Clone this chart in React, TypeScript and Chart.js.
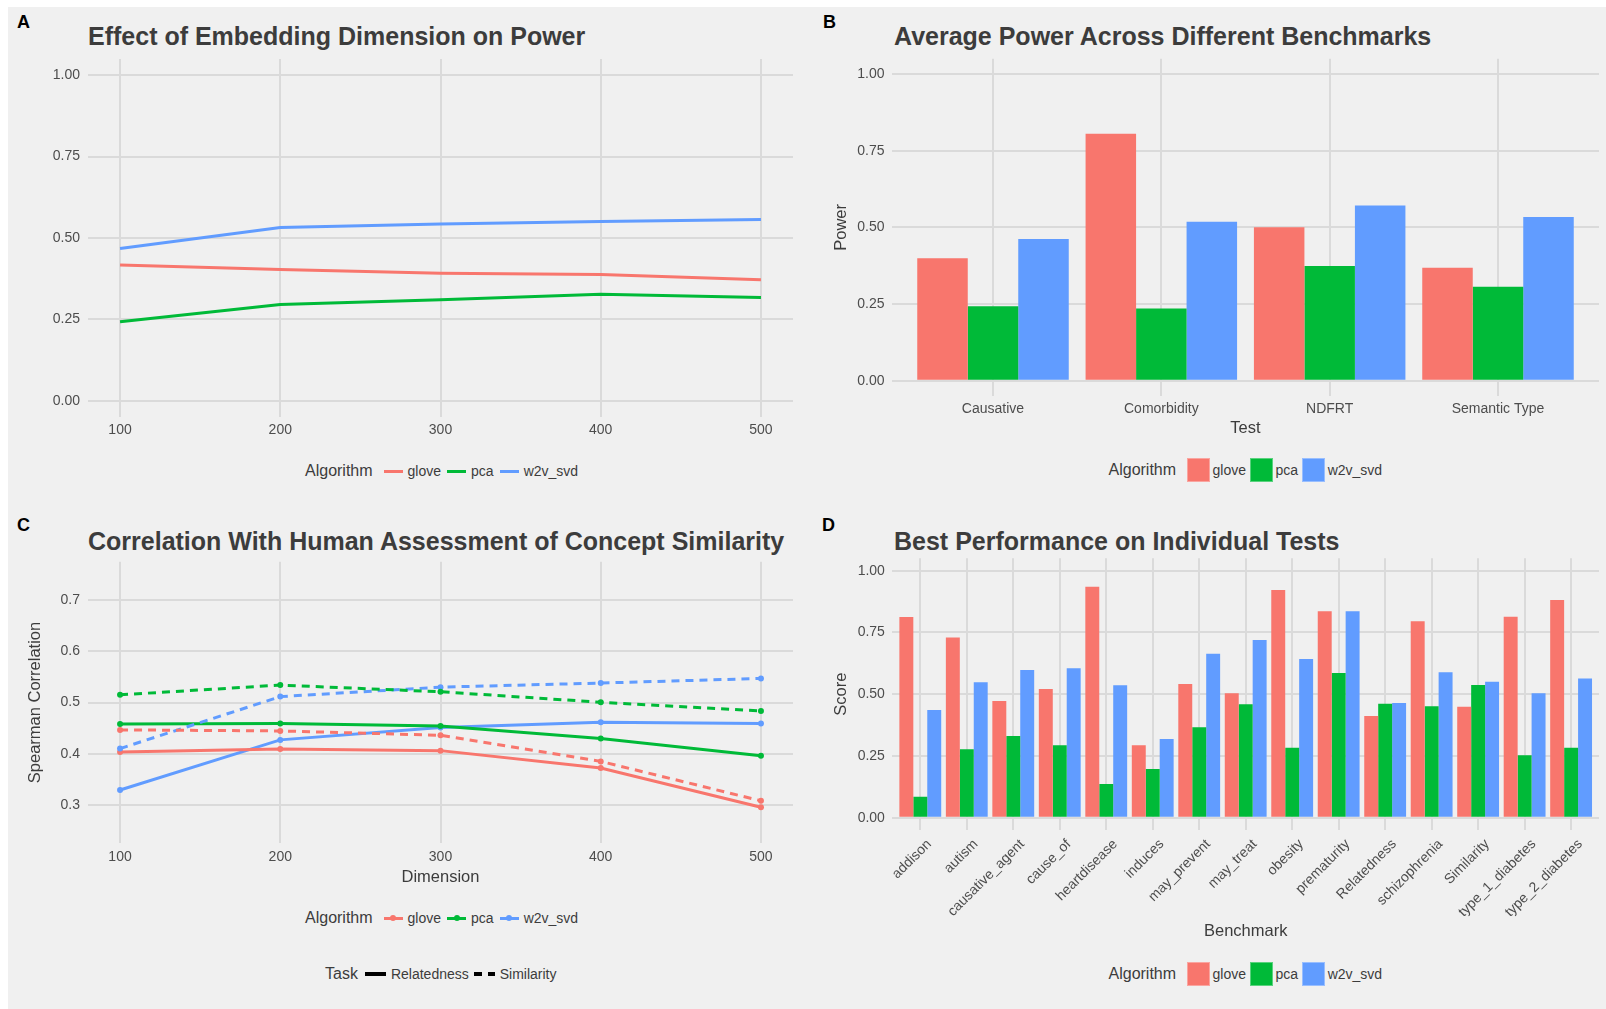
import React, { useEffect, useRef } from "react";
import { Chart, registerables } from "chart.js";

Chart.register(...registerables);

// ---------------- data ----------------
const algorithms = ["glove", "pca", "w2v_svd"];
const algoColors = ["#F8766D", "#00BA38", "#619CFF"];

// Panel A: Effect of Embedding Dimension on Power
const dimensions = [100, 200, 300, 400, 500];
const powerGlove = [0.417, 0.403, 0.392, 0.388, 0.372];
const powerPca = [0.243, 0.296, 0.31, 0.327, 0.317];
const powerW2v = [0.468, 0.532, 0.543, 0.551, 0.557];
const powerTicks = [0, 0.25, 0.5, 0.75, 1];

// Panel B: Average Power Across Different Benchmarks
const tests = ["Causative", "Comorbidity", "NDFRT", "Semantic Type"];
const avgGlove = [0.399, 0.805, 0.5, 0.368];
const avgPca = [0.243, 0.235, 0.374, 0.306];
const avgW2v = [0.462, 0.518, 0.571, 0.534];

// Panel C: Correlation With Human Assessment of Concept Similarity
const corrTicks = [0.3, 0.4, 0.5, 0.6, 0.7];
const tasks = ["Relatedness", "Similarity"];
const relGlove = [0.4035, 0.409, 0.406, 0.372, 0.2955];
const relPca = [0.458, 0.459, 0.454, 0.4295, 0.396];
const relW2v = [0.329, 0.427, 0.451, 0.4615, 0.459];
const simGlove = [0.4465, 0.4445, 0.436, 0.385, 0.308];
const simPca = [0.515, 0.534, 0.521, 0.5005, 0.4835];
const simW2v = [0.41, 0.5115, 0.53, 0.538, 0.547];

// Panel D: Best Performance on Individual Tests
const benchmarks = [
  "addison", "autism", "causative_agent", "cause_of", "heartdisease",
  "induces", "may_prevent", "may_treat", "obesity", "prematurity",
  "Relatedness", "schizophrenia", "Similarity", "type_1_diabetes", "type_2_diabetes",
];
const bestGlove = [0.8125, 0.729, 0.4725, 0.521, 0.935, 0.293, 0.541, 0.5035, 0.922, 0.8355, 0.412, 0.795, 0.4495, 0.814, 0.881];
const bestPca = [0.085, 0.277, 0.331, 0.293, 0.1365, 0.197, 0.366, 0.459, 0.2835, 0.586, 0.4615, 0.451, 0.537, 0.2525, 0.2835];
const bestW2v = [0.436, 0.548, 0.598, 0.605, 0.536, 0.3185, 0.664, 0.7195, 0.6425, 0.8355, 0.4645, 0.5885, 0.5505, 0.5035, 0.563];

// ---------------- styling ----------------
const FONT = "'Liberation Sans', Arial, Helvetica, sans-serif";
const TICK_COLOR = "#4D4D4D";
const TEXT_COLOR = "#3C3C3C";
const GRID_COLOR = "#DADADA";
const BG = "#F0F0F0";

Chart.defaults.font.family = FONT;

const fixTicks = (values: number[]) => (axis: any) => {
  axis.ticks = values.map((v) => ({ value: v }));
};

const fitX = (h: number) => (s: any) => {
  s.height = h;
  s.paddingLeft = 0;
  s.paddingRight = 0;
};
const fitY = (w: number) => (s: any) => {
  s.width = w;
  s.paddingTop = 0;
  s.paddingBottom = 0;
};

function baseScale(extra: any) {
  return {
    offset: false,
    border: { display: false },
    grid: { color: GRID_COLOR, lineWidth: 2, drawTicks: false, offset: false },
    ticks: { color: TICK_COLOR, font: { size: 14 } },
    ...extra,
  };
}

function useChart(factory: () => any) {
  const ref = useRef<HTMLCanvasElement | null>(null);
  useEffect(() => {
    if (!ref.current) return;
    const chart = new Chart(ref.current, factory());
    return () => chart.destroy();
  }, []);
  return ref;
}

const commonOptions = {
  animation: false,
  responsive: false,
  maintainAspectRatio: false,
  events: [],
  plugins: { legend: { display: false }, tooltip: { enabled: false }, title: { display: false } },
};

function Panel({ left, top, width, height, factory }: any) {
  const ref = useChart(factory);
  return (
    <canvas
      ref={ref}
      width={width}
      height={height}
      style={{ position: "absolute", left, top, width, height }}
    />
  );
}

// ---------------- chart factories ----------------
const chartA = () => ({
  type: "line",
  data: {
    datasets: [powerGlove, powerPca, powerW2v].map((vals, k) => ({
      label: algorithms[k],
      data: dimensions.map((d, i) => ({ x: d, y: vals[i] })),
      borderColor: algoColors[k],
      borderWidth: 3,
      pointRadius: 0,
      tension: 0,
    })),
  },
  options: {
    ...commonOptions,
    layout: { padding: { top: 9, right: 7, left: 0, bottom: 0 } },
    scales: {
      x: baseScale({
        type: "linear", min: 80, max: 520,
        afterBuildTicks: fixTicks(dimensions),
        afterFit: fitX(33),
        ticks: { color: TICK_COLOR, font: { size: 14 }, padding: 5, callback: (v: any) => String(v) },
      }),
      y: baseScale({
        type: "linear", min: -0.05, max: 1.05,
        afterBuildTicks: fixTicks(powerTicks),
        afterFit: fitY(48),
        ticks: { color: TICK_COLOR, font: { size: 14 }, padding: 8, callback: (v: any) => Number(v).toFixed(2) },
      }),
    },
  },
});

const axisTitle = (text: string, padding: any) => ({
  display: true, text, color: TEXT_COLOR, font: { size: 16.5 }, padding,
});

const barFactory = (
  cats: string[], series: number[][], xHeight: number, yWidth: number, padTop: number,
  xTitle: string, yTitle: string, xTitlePad: number, rotated: boolean
) => () => ({
  type: "bar",
  data: {
    datasets: series.map((vals, k) => ({
      label: algorithms[k],
      data: cats.map((_, i) => ({ x: i + 1, y: vals[i] })),
      backgroundColor: algoColors[k],
      borderWidth: 0,
      categoryPercentage: 0.9,
      barPercentage: 1,
    })),
  },
  options: {
    ...commonOptions,
    layout: { padding: { top: padTop, right: 7, left: 0, bottom: 0 } },
    scales: {
      x: baseScale({
        type: "linear", min: 0.4, max: cats.length + 0.6,
        afterBuildTicks: fixTicks(cats.map((_, i) => i + 1)),
        afterFit: fitX(xHeight),
        title: axisTitle(xTitle, { top: 0, bottom: xTitlePad }),
        ticks: rotated
          ? {
              color: TICK_COLOR, font: { size: 14 }, padding: 6, labelOffset: 9,
              minRotation: 45, maxRotation: 45, autoSkip: false,
              callback: (v: any) => cats[Math.round(v) - 1],
            }
          : {
              color: TICK_COLOR, font: { size: 14 }, padding: 5, autoSkip: false,
              callback: (v: any) => cats[Math.round(v) - 1],
            },
      }),
      y: baseScale({
        type: "linear", min: -0.05, max: 1.05,
        afterBuildTicks: fixTicks(powerTicks),
        afterFit: fitY(yWidth),
        title: axisTitle(yTitle, { top: 31.1, bottom: 0 }),
        ticks: { color: TICK_COLOR, font: { size: 14 }, padding: 7.5, callback: (v: any) => Number(v).toFixed(2) },
      }),
    },
  },
});

const chartB = barFactory(tests, [avgGlove, avgPca, avgW2v], 45, 92, 8.7, "Test", "Power", 3.1, false);
const chartD = barFactory(benchmarks, [bestGlove, bestPca, bestW2v], 116, 92.4, 18.35, "Benchmark", "Score", 4.2, true);

const chartC = () => {
  const rel = [relGlove, relPca, relW2v];
  const sim = [simGlove, simPca, simW2v];
  const mk = (vals: number[], k: number, dashed: boolean) => ({
    label: algorithms[k] + " " + (dashed ? tasks[1] : tasks[0]),
    data: dimensions.map((d, i) => ({ x: d, y: vals[i] })),
    borderColor: algoColors[k],
    backgroundColor: algoColors[k],
    borderWidth: 3,
    borderDash: dashed ? [8, 6] : [],
    pointRadius: 3,
    pointBorderWidth: 0,
    pointBackgroundColor: algoColors[k],
    tension: 0,
  });
  return {
    type: "line",
    data: {
      datasets: [
        ...sim.map((v, k) => mk(v, k, true)),
        ...rel.map((v, k) => mk(v, k, false)),
      ],
    },
    options: {
      ...commonOptions,
      layout: { padding: { top: 21.7, right: 7, left: 0, bottom: 0 } },
      scales: {
        x: baseScale({
          type: "linear", min: 80, max: 520,
          afterBuildTicks: fixTicks(dimensions),
          afterFit: fitX(47.7),
          title: axisTitle("Dimension", { top: 0, bottom: 4 }),
          ticks: { color: TICK_COLOR, font: { size: 14 }, padding: 5.4, callback: (v: any) => String(v) },
        }),
        y: baseScale({
          type: "linear", min: 0.225, max: 0.775,
          afterBuildTicks: fixTicks(corrTicks),
          afterFit: fitY(80),
          title: axisTitle("Spearman Correlation", { top: 17.1, bottom: 0 }),
          ticks: { color: TICK_COLOR, font: { size: 14 }, padding: 8, callback: (v: any) => Number(v).toFixed(1) },
        }),
      },
    },
  };
};

// ---------------- HTML text pieces ----------------
function Letter({ x, y, children }: any) {
  return (
    <div style={{ position: "absolute", left: x, top: y, font: `bold 18px ${FONT}`, lineHeight: "18px", color: "#000" }}>
      {children}
    </div>
  );
}

function Title({ x, y, children }: any) {
  return (
    <div style={{ position: "absolute", left: x, top: y, font: `bold 25px ${FONT}`, lineHeight: "25px", color: TEXT_COLOR, whiteSpace: "nowrap" }}>
      {children}
    </div>
  );
}

function LineKey({ color, dot }: any) {
  return (
    <div style={{ position: "relative", width: 19, height: 12, marginRight: 5 }}>
      <div style={{ position: "absolute", left: 0, top: 4.5, width: 19, height: 3, background: color }} />
      {dot && (
        <div style={{ position: "absolute", left: 6.5, top: 3, width: 6, height: 6, borderRadius: 3, background: color }} />
      )}
    </div>
  );
}

function LineLegend({ x, cy, dot }: any) {
  return (
    <div style={{ position: "absolute", left: x, top: cy - 12, height: 24, display: "flex", alignItems: "center", whiteSpace: "nowrap", fontFamily: FONT, color: TEXT_COLOR }}>
      <span style={{ fontSize: 16, marginRight: 11 }}>Algorithm</span>
      {algorithms.map((a, k) => (
        <React.Fragment key={a}>
          <LineKey color={algoColors[k]} dot={dot} />
          <span style={{ fontSize: 14, marginRight: 6 }}>{a}</span>
        </React.Fragment>
      ))}
    </div>
  );
}

function FillLegend({ x, cy }: any) {
  return (
    <div style={{ position: "absolute", left: x, top: cy - 12, height: 24, display: "flex", alignItems: "center", whiteSpace: "nowrap", fontFamily: FONT, color: TEXT_COLOR }}>
      <span style={{ fontSize: 16, marginRight: 10.5 }}>Algorithm</span>
      {algorithms.map((a, k) => (
        <React.Fragment key={a}>
          <div style={{ width: 23.5, height: 24, background: algoColors[k], boxSizing: "border-box", border: "1px solid rgba(255,255,255,0.35)", marginRight: 2.5 }} />
          <span style={{ fontSize: 14, marginRight: 3.5 }}>{a}</span>
        </React.Fragment>
      ))}
    </div>
  );
}

function TaskLegend({ x, cy }: any) {
  return (
    <div style={{ position: "absolute", left: x, top: cy - 12, height: 24, display: "flex", alignItems: "center", whiteSpace: "nowrap", fontFamily: FONT, color: TEXT_COLOR }}>
      <span style={{ fontSize: 16, marginRight: 7 }}>Task</span>
      <div style={{ width: 21, height: 4, background: "#000", marginRight: 5 }} />
      <span style={{ fontSize: 14, marginRight: 5 }}>{tasks[0]}</span>
      <div style={{ width: 8, height: 4, background: "#000", marginRight: 6 }} />
      <div style={{ width: 7, height: 4, background: "#000", marginRight: 5 }} />
      <span style={{ fontSize: 14 }}>{tasks[1]}</span>
    </div>
  );
}

export default function App() {
  return (
    <div style={{ position: "absolute", left: 0, top: 0, width: 1606, height: 1009, background: "#fff", overflow: "hidden" }}>
      <div style={{ position: "absolute", left: 8, top: 7, width: 1598, height: 1002, background: BG }} />

      <Letter x={17} y={12.6}>A</Letter>
      <Title x={88} y={23.75}>Effect of Embedding Dimension on Power</Title>
      <Panel left={40} top={50} width={760} height={400} factory={chartA} />
      <LineLegend x={305} cy={471} dot={false} />

      <Letter x={823} y={12.6}>B</Letter>
      <Title x={894} y={23.75}>Average Power Across Different Benchmarks</Title>
      <Panel left={800} top={50} width={806} height={391} factory={chartB} />
      <FillLegend x={1108.5} cy={470} />

      <Letter x={17} y={515.6}>C</Letter>
      <Title x={88} y={528.75}>Correlation With Human Assessment of Concept Similarity</Title>
      <Panel left={8} top={540} width={792} height={351} factory={chartC} />
      <LineLegend x={305} cy={918} dot={true} />
      <TaskLegend x={325} cy={974} />

      <Letter x={822} y={515.6}>D</Letter>
      <Title x={894} y={528.75}>Best Performance on Individual Tests</Title>
      <Panel left={800} top={540} width={806} height={406} factory={chartD} />
      <FillLegend x={1108.5} cy={974} />
    </div>
  );
}
